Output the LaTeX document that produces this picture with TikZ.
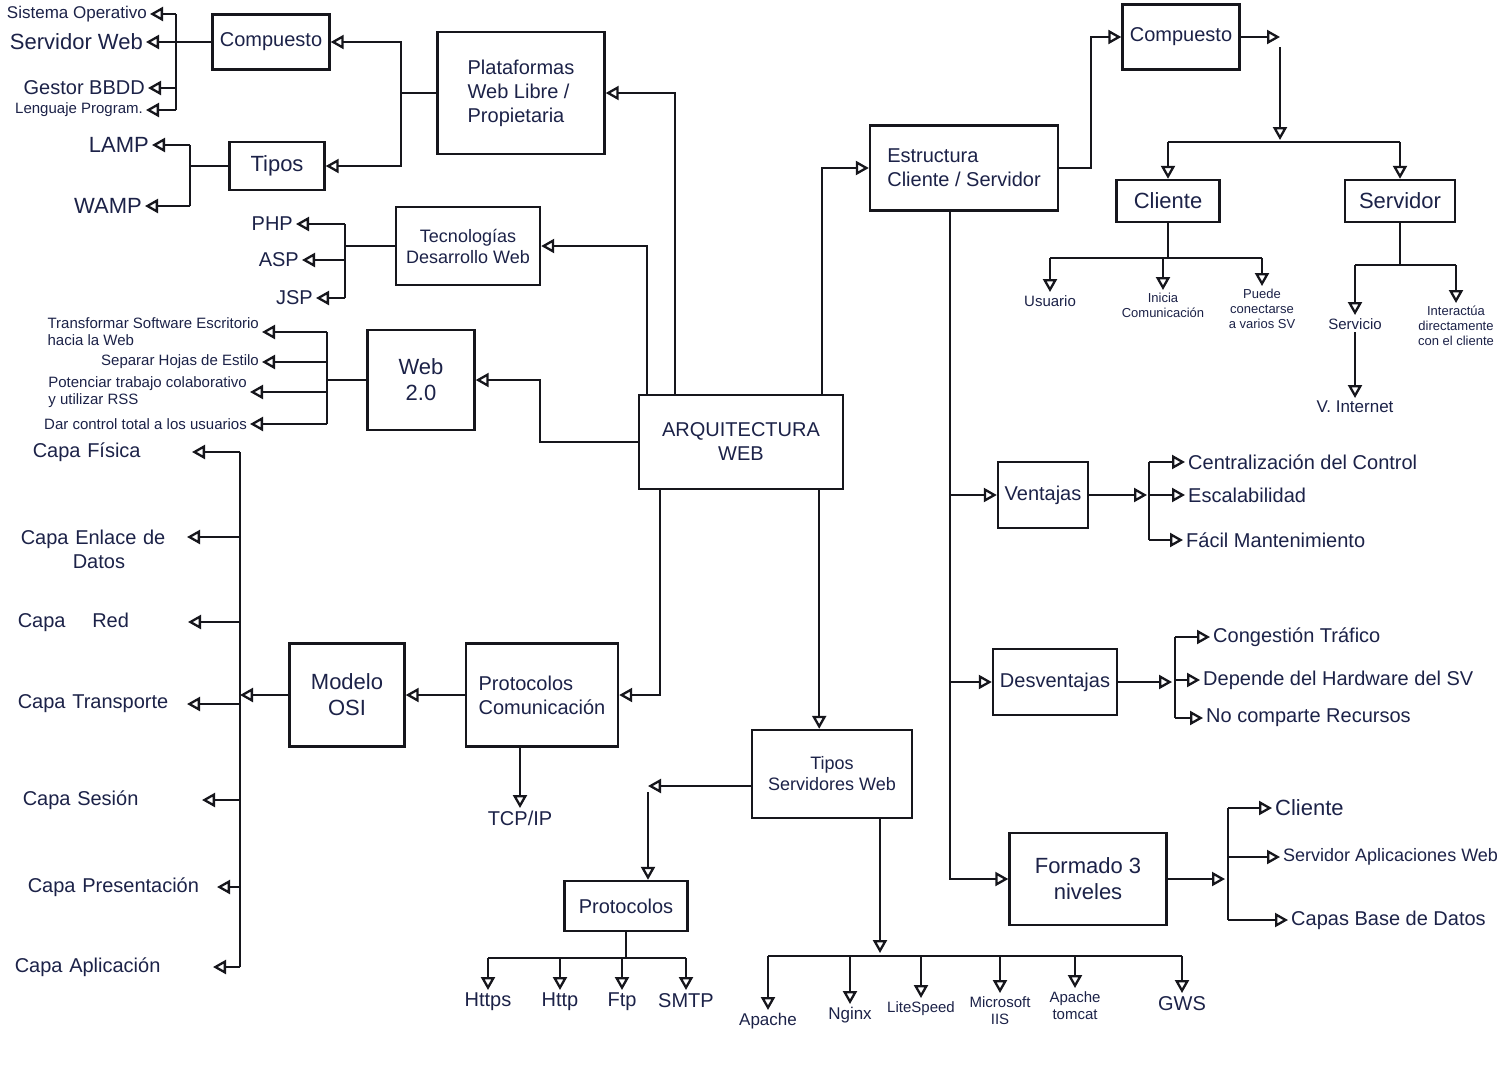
\documentclass[tikz,border=0pt]{standalone}
\usepackage{fontspec}
\setmainfont{Liberation Sans}
\usetikzlibrary{arrows.meta,calc}
\definecolor{ink}{RGB}{28,34,72}
\definecolor{linec}{RGB}{22,22,28}
\newcommand\fzXL{\fontsize{22}{26}\selectfont}
\newcommand\fzL{\fontsize{20}{24}\selectfont}
\newcommand\fzMM{\fontsize{18}{21}\selectfont}
\newcommand\fzM{\fontsize{17}{20}\selectfont}
\newcommand\fzS{\fontsize{15}{17}\selectfont}
\newcommand\fzXS{\fontsize{13}{15}\selectfont}
\begin{document}
\begin{tikzpicture}[x=1pt,y=-1pt,
 ln/.style={draw=linec,line width=2.3pt},
 arr/.style={ln,-{Triangle[open,length=13pt,width=14pt]}},
 box/.style={draw=linec,line width=2.4pt,text=ink,font=\fzL,align=center,inner sep=4pt},
 lbl/.style={text=ink,font=\fzM,inner sep=3pt,align=center},
]
\fill[white] (0,0) rectangle (1512,1066);
\useasboundingbox (0,0) rectangle (1512,1066);

% ---------- boxes ----------
\node[box,minimum width=117pt,minimum height=55pt] (compL) at (271,42) {Compuesto};
\node[box,font=\fzXL,minimum width=95pt,minimum height=48pt] (tiposL) at (277,166) {Tipos};
\node[box,align=left,minimum width=167pt,minimum height=122pt] (plat) at (521,93) {Plataformas\\Web Libre /\\Propietaria};
\node[box,font=\fzMM,minimum width=144pt,minimum height=78pt] (tec) at (468,246) {Tecnologías\\Desarrollo Web};
\node[box,font=\fzXL,minimum width=107pt,minimum height=100pt] (web) at (421,380) {Web\\2.0};
\node[box,minimum width=204pt,minimum height=94pt] (arq) at (741,442) {ARQUITECTURA\\WEB};
\node[box,font=\fzXL,minimum width=115pt,minimum height=103pt] (osi) at (347,695) {Modelo\\OSI};
\node[box,align=left,minimum width=152pt,minimum height=103pt] (pcom) at (542,695) {Protocolos\\Comunicación};
\node[box,font=\fzMM,minimum width=160pt,minimum height=88pt] (tsw) at (832,774) {Tipos\\Servidores Web};
\node[box,minimum width=123pt,minimum height=50pt] (prot) at (626,906) {Protocolos};

\node[box,align=left,minimum width=188pt,minimum height=85pt] (est) at (964,168) {Estructura\\Cliente / Servidor};
\node[box,minimum width=117pt,minimum height=65pt] (compR) at (1181,37) {Compuesto};
\node[box,font=\fzXL,minimum width=103pt,minimum height=42pt] (cli) at (1168,201) {Cliente};
\node[box,font=\fzXL,minimum width=110pt,minimum height=42pt] (srv) at (1400,201) {Servidor};
\node[box,minimum width=90pt,minimum height=66pt] (vent) at (1043,495) {Ventajas};
\node[box,minimum width=124pt,minimum height=66pt] (desv) at (1055,682) {Desventajas};
\node[box,font=\fzXL,minimum width=157pt,minimum height=92pt] (f3) at (1088,879) {Formado 3\\niveles};

% ---------- ARQUITECTURA connections ----------
\draw[arr] ([xshift=37pt]arq.north west) |- (plat.east);
\draw[arr] ([xshift=9pt]arq.north west) |- (tec.east);
\draw[arr] (arq.west) -- ++(-98,0) |- (web.east);
\draw[arr] ([xshift=-22pt]arq.north east) |- (est.west);
\draw[arr] ([xshift=22pt]arq.south west) |- (pcom.east);
\draw[arr] ([xshift=-25pt]arq.south east) -- ([xshift=-25pt]arq.south east |- tsw.north);

% ---------- Compuesto / Tipos (left) ----------
\draw[arr] (plat.west) -- ++(-35,0) |- (compL.east);
\draw[arr] (plat.west) -- ++(-35,0) |- (tiposL.east);

\node[lbl,anchor=east] (so) at (150,14) {Sistema Operativo};
\node[lbl,anchor=east,font=\fzXL] (sw) at (146,42) {Servidor Web};
\node[lbl,anchor=east,font=\fzL] (gb) at (148,88) {Gestor BBDD};
\node[lbl,anchor=east,font=\fzS] (lp) at (146,110) {Lenguaje Program.};
\coordinate (bA) at (176,14);
\coordinate (bB) at (176,110);
\draw[ln] (bA) -- (bB);
\draw[arr] (bA) -- (so.east);
\draw[ln] (bA |- sw.east) -- (compL.west);
\draw[arr] (bA |- sw.east) -- (sw.east);
\draw[arr] (bA |- gb.east) -- (gb.east);
\draw[arr] (bB) -- (lp.east);

\node[lbl,anchor=east,font=\fzXL] (lamp) at (152,145) {LAMP};
\node[lbl,anchor=east,font=\fzXL] (wamp) at (145,206) {WAMP};
\coordinate (bC) at (190,145);
\coordinate (bD) at (190,206);
\draw[ln] (bC) -- (bD);
\draw[arr] (bC) -- (lamp.east);
\draw[arr] (bD) -- (wamp.east);
\draw[ln] (bC |- tiposL.west) -- (tiposL.west);

% ---------- Tecnologias ----------
\node[lbl,anchor=east,font=\fzL] (php) at (296,224) {PHP};
\node[lbl,anchor=east,font=\fzL] (asp) at (302,260) {ASP};
\node[lbl,anchor=east,font=\fzL] (jsp) at (316,298) {JSP};
\coordinate (bE) at (345,224);
\coordinate (bF) at (345,298);
\draw[ln] (bE) -- (bF);
\draw[arr] (bE) -- (php.east);
\draw[arr] (bE |- asp.east) -- (asp.east);
\draw[arr] (bF) -- (jsp.east);
\draw[ln] (bE |- tec.west) -- (tec.west);

% ---------- Web 2.0 ----------
\node[lbl,anchor=east,font=\fzS,align=left] (wt) at (262,332) {Transformar Software Escritorio\\hacia la Web};
\node[lbl,anchor=east,font=\fzS] (ws) at (262,362) {Separar Hojas de Estilo};
\node[lbl,anchor=east,font=\fzS,align=left] (wp) at (250,392) {Potenciar trabajo colaborativo\\y utilizar RSS};
\node[lbl,anchor=east,font=\fzS] (wd) at (250,424) {Dar control total a los usuarios};
\coordinate (bG) at (327,332);
\coordinate (bH) at (327,424);
\draw[ln] (bG) -- (bH);
\draw[arr] (bG) -- (wt.east);
\draw[arr] (bG |- ws.east) -- (ws.east);
\draw[arr] (bG |- wp.east) -- (wp.east);
\draw[arr] (bH) -- (wd.east);
\draw[ln] (bG |- web.west) -- (web.west);

% ---------- OSI ----------
\node[lbl,anchor=east,font=\fzL,align=left,text width=156pt] (fis) at (192,452) {Capa Física};
\node[lbl,anchor=east,font=\fzL,align=left,text width=163pt] (enl) at (187,549) {Capa Enlace de\\\hspace*{2.6em}Datos};
\node[lbl,anchor=east,font=\fzL,align=left,text width=167pt] (red) at (188,622) {Capa \quad Red};
\node[lbl,anchor=east,font=\fzL,align=left,text width=166pt] (tra) at (187,704) {Capa Transporte};
\node[lbl,anchor=east,font=\fzL,align=left,text width=176pt] (ses) at (202,800) {Capa Sesión};
\node[lbl,anchor=east,font=\fzL,align=left,text width=186pt] (pre) at (217,887) {Capa Presentación};
\node[lbl,anchor=east,font=\fzL,align=left,text width=195pt] (apl) at (213,967) {Capa Aplicación};
\coordinate (oT) at (240,452);
\coordinate (oB) at (240,967);
\draw[ln] (oT) -- (oB);
\draw[arr] (oT) -- (fis.east);
\draw[arr] (oT |- 0,537) -- (enl.east |- 0,537);
\draw[arr] (oT |- red.east) -- (red.east);
\draw[arr] (oT |- tra.east) -- (tra.east);
\draw[arr] (oT |- ses.east) -- (ses.east);
\draw[arr] (oT |- pre.east) -- (pre.east);
\draw[arr] (oB) -- (apl.east);
\draw[arr] (osi.west) -- (oT |- osi.west);

% ---------- Protocolos comunicacion ----------
\draw[arr] (pcom.west) -- (osi.east);
\node[lbl,anchor=north,font=\fzL] (tcp) at (520,808) {TCP/IP};
\draw[arr] (pcom.south -| tcp.north) -- (tcp.north);

% ---------- Tipos servidores web ----------
\coordinate (tL) at (648,786);
\draw[arr] (tsw.west |- tL) -- (tL);
\draw[arr] ([yshift=-6pt]tL) -- (tL |- prot.north);

\node[lbl,anchor=north,font=\fzL] (https) at (488,990) {Https};
\node[lbl,anchor=north,font=\fzL] (http) at (560,990) {Http};
\node[lbl,anchor=north,font=\fzL] (ftp) at (622,990) {Ftp};
\node[lbl,anchor=north,font=\fzL] (smtp) at (686,990) {SMTP};
\draw[ln] (prot.south) -- (prot.south |- 0,958);
\draw[ln] (https.north |- 0,958) -- (smtp.north |- 0,958);
\draw[arr] (https.north |- 0,958) -- (https.north);
\draw[arr] (http.north |- 0,958) -- (http.north);
\draw[arr] (ftp.north |- 0,958) -- (ftp.north);
\draw[arr] (smtp.north |- 0,958) -- (smtp.north);

\coordinate (sTip) at (880,953);
\draw[arr] ([xshift=48pt]tsw.south) -- (sTip);
\node[lbl,anchor=north] (apa) at (768,1010) {Apache};
\node[lbl,anchor=north] (ngx) at (850,1004) {Nginx};
\node[lbl,anchor=north,font=\fzS] (lsp) at (921,998) {LiteSpeed};
\node[lbl,anchor=north,font=\fzS] (mic) at (1000,993) {Microsoft\\IIS};
\node[lbl,anchor=north,font=\fzS] (tom) at (1075,988) {Apache\\tomcat};
\node[lbl,anchor=north,font=\fzL] (gws) at (1182,993) {GWS};
\draw[ln] (apa.north |- 0,956) -- (gws.north |- 0,956);
\foreach \n in {apa,ngx,lsp,mic,tom,gws}{
  \draw[arr] (\n.north |- 0,956) -- (\n.north);
}

% ---------- Estructura Cliente/Servidor ----------
\draw[arr] (est.east) -- ++(32,0) |- (compR.west);
\coordinate (crA) at (1280,37);
\coordinate (crB) at (1280,140);
\draw[arr] (compR.east) -- (crA);
\draw[arr] ([yshift=-10pt]crA) -- (crB);
\draw[ln] (cli.north |- 0,142) -- (srv.north |- 0,142);
\draw[arr] (cli.north |- 0,142) -- (cli.north);
\draw[arr] (srv.north |- 0,142) -- (srv.north);

\node[lbl,anchor=north,font=\fzS] (usr) at (1050,292) {Usuario};
\node[lbl,anchor=north,font=\fzXS] (ini) at (1163,290) {Inicia\\Comunicación};
\node[lbl,anchor=north,font=\fzXS] (pue) at (1262,286) {Puede\\conectarse\\a varios SV};
\draw[ln] (cli.south) -- (cli.south |- 0,258);
\draw[ln] (usr.north |- 0,258) -- (pue.north |- 0,258);
\draw[arr] (usr.north |- 0,258) -- (usr.north);
\draw[arr] (ini.north |- 0,258) -- (ini.north);
\draw[arr] (pue.north |- 0,258) -- (pue.north);

\node[lbl,anchor=north,font=\fzS] (ser) at (1355,315) {Servicio};
\node[lbl,anchor=north,font=\fzXS] (int) at (1456,303) {Interactúa\\directamente\\con el cliente};
\draw[ln] (srv.south) -- (srv.south |- 0,265);
\draw[ln] (ser.north |- 0,265) -- (int.north |- 0,265);
\draw[arr] (ser.north |- 0,265) -- (ser.north);
\draw[arr] (int.north |- 0,265) -- (int.north);
\node[lbl,anchor=north] (vin) at (1355,398) {V. Internet};
\draw[arr] (ser.south) -- (vin.north);

\coordinate (eTop) at ([xshift=-14pt]est.south);
\draw[arr] (eTop) |- (f3.west);
\draw[arr] (eTop |- vent.west) -- (vent.west);
\draw[arr] (eTop |- desv.west) -- (desv.west);

% Ventajas
\coordinate (vB) at (1147,495);
\coordinate (vT) at (1149,462);
\coordinate (vD) at (1149,540);
\draw[arr] (vent.east) -- (vB);
\draw[ln] (vT) -- (vD);
\node[lbl,anchor=west,font=\fzL] (cen) at (1185,462) {Centralización del Control};
\node[lbl,anchor=west,font=\fzL] (esc) at (1185,495) {Escalabilidad};
\node[lbl,anchor=west,font=\fzL] (fac) at (1183,540) {Fácil Mantenimiento};
\draw[arr] (vT) -- (cen.west);
\draw[arr] (vT |- esc.west) -- (esc.west);
\draw[arr] (vD) -- (fac.west);

% Desventajas
\coordinate (dB) at (1172,682);
\coordinate (dT) at (1175,637);
\coordinate (dD) at (1175,718);
\draw[arr] (desv.east) -- (dB);
\draw[ln] (dT) -- (dD);
\node[lbl,anchor=west,font=\fzL] (con) at (1210,637) {Congestión Tráfico};
\node[lbl,anchor=west,font=\fzL] (dep) at (1200,680) {Depende del Hardware del SV};
\node[lbl,anchor=west,font=\fzL] (noc) at (1203,718) {No comparte Recursos};
\draw[arr] (dT) -- (con.west);
\draw[arr] (dT |- dep.west) -- (dep.west);
\draw[arr] (dD) -- (noc.west);

% Formado 3 niveles
\coordinate (fB) at (1225,879);
\coordinate (fT) at (1228,808);
\coordinate (fD) at (1228,920);
\draw[arr] (f3.east) -- (fB);
\draw[ln] (fT) -- (fD);
\node[lbl,anchor=west,font=\fzXL] (cl3) at (1272,808) {Cliente};
\node[lbl,anchor=west,font=\fzMM] (sa3) at (1280,857) {Servidor Aplicaciones Web};
\node[lbl,anchor=west,font=\fzL] (cb3) at (1288,920) {Capas Base de Datos};
\draw[arr] (fT) -- (cl3.west);
\draw[arr] (fT |- sa3.west) -- (sa3.west);
\draw[arr] (fD) -- (cb3.west);
\end{tikzpicture}
\end{document}
